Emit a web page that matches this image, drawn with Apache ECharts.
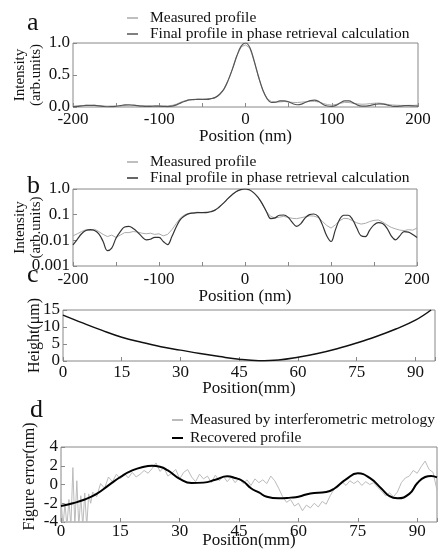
<!DOCTYPE html>
<html>
<head>
<meta charset="utf-8">
<script src="https://cdn.jsdelivr.net/npm/echarts@6/dist/echarts.min.js"></script>
<style>
  html, body { margin: 0; padding: 0; background: #fff; }
  #chart { width: 440px; height: 559px; }
</style>
</head>
<body>
<div id="chart"></div>
<script>
// panels a + b : same profiles, linear and log scale
const posNm = [-200, -195, -190, -185, -180, -175, -170, -165, -160, -155, -150, -145, -140, -135, -130, -125, -120, -115, -110, -105,
  -100, -95, -90, -85, -80, -75, -70, -65, -60, -55, -50, -45, -40, -35, -30, -25, -20, -15, -10, -5,
  0, 5, 10, 15, 20, 25, 30, 35, 40, 45, 50, 55, 60, 65, 70, 75, 80, 85, 90, 95,
  100, 105, 110, 115, 120, 125, 130, 135, 140, 145, 150, 155, 160, 165, 170, 175, 180, 185, 190, 195, 200];
const measuredProfile = [0.015, 0.018, 0.022, 0.026, 0.024, 0.027, 0.022, 0.017, 0.014, 0.016, 0.013, 0.016, 0.02, 0.02, 0.022, 0.021, 0.019, 0.018, 0.019, 0.017,
  0.018, 0.015, 0.017, 0.026, 0.045, 0.075, 0.1, 0.112, 0.12, 0.125, 0.12, 0.128, 0.132, 0.145, 0.19, 0.28, 0.42, 0.6, 0.8, 0.94,
  0.97, 0.92, 0.72, 0.47, 0.26, 0.13, 0.085, 0.074, 0.08, 0.086, 0.078, 0.072, 0.07, 0.076, 0.082, 0.09, 0.088, 0.078, 0.055, 0.038,
  0.03, 0.04, 0.058, 0.072, 0.07, 0.058, 0.048, 0.043, 0.046, 0.054, 0.06, 0.062, 0.052, 0.04, 0.032, 0.028, 0.025, 0.024, 0.026, 0.025, 0.03];
const finalProfile = [0.0066, 0.011, 0.018, 0.024, 0.026, 0.024, 0.018, 0.009, 0.004, 0.005, 0.012, 0.022, 0.033, 0.035, 0.029, 0.021, 0.014, 0.0105, 0.011, 0.013,
  0.013, 0.009, 0.0068, 0.014, 0.033, 0.065, 0.09, 0.11, 0.115, 0.12, 0.12, 0.12, 0.13, 0.15, 0.2, 0.28, 0.42, 0.6, 0.8, 0.95,
  1.0, 0.93, 0.72, 0.48, 0.27, 0.13, 0.07, 0.075, 0.095, 0.097, 0.08, 0.05, 0.035, 0.045, 0.075, 0.1, 0.106, 0.085, 0.04, 0.015,
  0.009, 0.025, 0.065, 0.095, 0.095, 0.065, 0.03, 0.015, 0.014, 0.025, 0.04, 0.049, 0.045, 0.03, 0.015, 0.0105, 0.015, 0.022, 0.021, 0.017, 0.013];

// panel c : mirror height
const posHeightMm = [0, 5, 10, 15, 20, 25, 30, 35, 40, 45, 50, 55, 60, 65, 70, 75, 80, 85, 90, 94];
const heightUm = [13.5, 11.2, 9.0, 7.0, 5.5, 4.2, 3.2, 2.2, 1.3, 0.5, 0.1, 0.3, 1.1, 2.2, 3.6, 5.3, 7.2, 9.4, 12.0, 15.0];

// panel d : figure error
const posMetrologyMm = [0, 0.5, 1, 1.5, 2, 2.5, 3, 3.5, 4, 4.5, 5, 5.5, 6, 6.5, 7, 7.5, 8, 9, 10, 11, 12, 13, 14, 15, 16, 17, 18, 19, 20,
  21, 22, 23, 24, 25, 26, 27, 28, 29, 30, 31, 32, 33, 34, 35, 36, 37, 38, 39, 40, 41, 42, 43, 44, 45, 46, 47, 48, 49, 50,
  51, 52, 53, 54, 55, 56, 57, 58, 59, 60, 61, 62, 63, 64, 65, 66, 67, 68, 69, 70, 71, 72, 73, 74, 75, 76, 77, 78, 79, 80,
  81, 82, 83, 84, 85, 86, 87, 88, 89, 90, 91, 92, 93, 94, 95];
const metrologyNm = [-1.5, -4.5, -2, -4.5, -1.6, -4.5, 1.8, -4.5, 0.4, -4.5, -1.2, -4.5, -0.9, -4.5, -1, -2, -0.8, -1.3, 0.1, -0.4, 0.8, 0.3, 1.1, 0.6, 1.2, 0.7, 1.3, 0.8, 1.1,
  1.5, 1.2, 1.7, 2.3, 1.4, 1.8, 0.9, 1.2, 1.6, 0.6, 1.3, 1.6, 0.8, 0.3, 1.1, 0.6, 0.9, 0.2, 1.0, 0.4, 0.9, 0.3, 0.8, 0.2, 0.7, 0.1, 0.5, -0.1, 0.6, 0.2,
  0.5, 0.1, 0.9, 0.4, -0.4, -1.3, -1.9, -1.6, -2.3, -2.0, -2.8, -2.2, -2.5, -2.0, -2.4, -1.8, -2.1, -1.2, -0.5, -0.3, 0.3, -0.1, 0.4, 0.1, 0.4, -0.1, 0.3, 0.0, 0.2, -0.3,
  -0.7, -1.2, -0.9, -1.3, -0.8, 0.2, 0.7, 0.9, 1.5, 1.2, 1.9, 2.5, 1.6, 1.3, -0.6];
const posRecoveredMm = [0, 3, 6, 9, 12, 15, 18, 21, 23, 25, 27, 30, 33, 36, 39, 42, 44, 46, 48, 50, 52, 55, 58, 60, 63, 67, 69, 72, 75, 78, 81, 83, 85, 88, 90, 92, 93.5, 95];
const recoveredNm = [-2.3, -2.0, -1.6, -1.0, -0.1, 0.8, 1.5, 1.9, 2.0, 1.9, 1.5, 0.6, 0.15, 0.2, 0.5, 0.88, 0.7, 0.35, -0.4, -0.85, -1.3, -1.47, -1.4, -1.3, -0.95, -0.8, -0.45, 0.55, 1.19, 0.7, -0.45, -1.25, -1.47, -1.0, 0.13, 0.8, 0.92, 0.77];

const FONT = "Liberation Serif";
const FRAME = "#888";

function pairs(xs, ys) {
  let out = [];
  for (let i = 0; i < xs.length; i++) out.push([xs[i], ys[i]]);
  return out;
}

function makeX(grid, min, max, interval, step, name, nameGap, margin) {
  return {
    gridIndex: grid, type: "value", min: min, max: max, interval: interval,
    name: name, nameLocation: "middle", nameGap: nameGap, nameMoveOverlap: false,
    nameTextStyle: { fontFamily: FONT, fontSize: 17, color: "#111" },
    axisLine: { show: false, onZero: false },
    axisTick: { inside: true, length: 4, lineStyle: { color: FRAME } },
    axisLabel: {
      fontFamily: FONT, fontSize: 17, color: "#111", margin: margin,
      formatter: function (v) { return v % step === 0 ? String(v) : ""; }
    },
    splitLine: { show: false }
  };
}

function makeY(grid, opts) {
  return Object.assign({
    gridIndex: grid, type: "value",
    nameLocation: "middle", nameRotate: 90, nameMoveOverlap: false,
    nameTextStyle: { fontFamily: FONT, fontSize: 15, color: "#111", lineHeight: 16 },
    axisLine: { show: false, onZero: false },
    axisTick: { inside: true, length: 4, lineStyle: { color: FRAME } },
    axisLabel: { fontFamily: FONT, fontSize: 17, color: "#111", margin: 3 },
    splitLine: { show: false }
  }, opts);
}

function legendAt(left, top, fontSize, lineH, iconH, textPad, items) {
  return {
    left: left, top: top, padding: 0, orient: "vertical", icon: "rect",
    itemWidth: 11, itemHeight: iconH, itemGap: 0,
    textStyle: { fontFamily: FONT, fontSize: fontSize, color: "#111", lineHeight: lineH, padding: [0, 0, 0, textPad] },
    data: items
  };
}

const chart = echarts.init(document.getElementById("chart"), null, { renderer: "canvas" });

const option = {
  animation: false,
  backgroundColor: "#fff",
  grid: [
    { left: 73, right: 22, top: 43, height: 64, show: true, borderColor: FRAME, borderWidth: 1 },
    { left: 73, right: 23, top: 189, height: 77, show: true, borderColor: FRAME, borderWidth: 1 },
    { left: 63, right: 5, top: 310, height: 51, show: true, borderColor: FRAME, borderWidth: 1 },
    { left: 61, right: 3, top: 447, height: 75, show: true, borderColor: FRAME, borderWidth: 1 }
  ],
  xAxis: [
    makeX(0, -200, 200, 50, 100, "Position (nm)", 21, 4),
    makeX(1, -200, 200, 50, 100, "Position (nm)", 22, 5),
    makeX(2, 0, 95, 15, 15, "Position(mm)", 19, 3),
    makeX(3, 0, 95, 15, 15, "Position(mm)", 10, 1)
  ],
  yAxis: [
    makeY(0, {
      min: 0, max: 1, interval: 0.5, name: "Intensity\n(arb.units)", nameGap: 29,
      axisLabel: { fontFamily: FONT, fontSize: 17, color: "#111", margin: 3, formatter: function (v) { return v.toFixed(1); } }
    }),
    makeY(1, {
      type: "log", logBase: 10, min: 0.001, max: 1, name: "Intensity\n(arb.units)", nameGap: 29,
      axisLabel: { fontFamily: FONT, fontSize: 17, color: "#111", margin: 3, formatter: function (v) { return v >= 1 ? "1.0" : String(+v.toPrecision(1)); } }
    }),
    makeY(2, { min: 0, max: 15, interval: 5, name: "Height(μm)", nameGap: 20, nameTextStyle: { fontFamily: FONT, fontSize: 16, color: "#111" } }),
    makeY(3, { min: -4, max: 4, interval: 2, name: "Figure error(nm)", nameGap: 23, nameTextStyle: { fontFamily: FONT, fontSize: 16, color: "#111", padding: [0, 0, 0, 16] } })
  ],
  legend: [
    legendAt(127, 10, 15.5, 16, 1.5, 7, [
      { name: "Measured profile", itemStyle: { color: "#aaa" } },
      { name: "Final profile in phase retrieval calculation", itemStyle: { color: "#555" } }
    ]),
    legendAt(127, 154, 15.5, 16, 1.5, 7, [
      { name: "Measured profile", itemStyle: { color: "#aaa" } },
      { name: "Final profile in phase retrieval calculation", itemStyle: { color: "#333" } }
    ]),
    legendAt(172, 411, 15.5, 18, 2, 2, [
      { name: "Measured by interferometric metrology", itemStyle: { color: "#bbb" } },
      { name: "Recovered profile", itemStyle: { color: "#000" } }
    ])
  ],
  graphic: [
    { type: "text", left: 27, top: 10, style: { text: "a", font: "26px " + FONT, fill: "#111" } },
    { type: "text", left: 27, top: 173, style: { text: "b", font: "26px " + FONT, fill: "#111" } },
    { type: "text", left: 27, top: 262, style: { text: "c", font: "26px " + FONT, fill: "#111" } },
    { type: "text", left: 30, top: 397, style: { text: "d", font: "26px " + FONT, fill: "#111" } }
  ],
  series: [
    {
      name: "Measured profile", type: "line", xAxisIndex: 0, yAxisIndex: 0, symbol: "none",
      itemStyle: { color: "#aaa" }, lineStyle: { color: "#aaa", width: 1 }, data: pairs(posNm, measuredProfile)
    },
    {
      name: "Final profile in phase retrieval calculation", type: "line", xAxisIndex: 0, yAxisIndex: 0, symbol: "none", smooth: 0.4,
      itemStyle: { color: "#555" }, lineStyle: { color: "#555", width: 1.2 }, data: pairs(posNm, finalProfile)
    },
    {
      name: "Measured profile", type: "line", xAxisIndex: 1, yAxisIndex: 1, symbol: "none",
      itemStyle: { color: "#aaa" }, lineStyle: { color: "#aaa", width: 1 }, data: pairs(posNm, measuredProfile)
    },
    {
      name: "Final profile in phase retrieval calculation", type: "line", xAxisIndex: 1, yAxisIndex: 1, symbol: "none", smooth: 0.4,
      itemStyle: { color: "#333" }, lineStyle: { color: "#333", width: 1.2 }, data: pairs(posNm, finalProfile)
    },
    {
      name: "Height", type: "line", xAxisIndex: 2, yAxisIndex: 2, symbol: "none", smooth: 0.4,
      itemStyle: { color: "#111" }, lineStyle: { color: "#111", width: 1.5 }, data: pairs(posHeightMm, heightUm)
    },
    {
      name: "Measured by interferometric metrology", type: "line", xAxisIndex: 3, yAxisIndex: 3, symbol: "none",
      itemStyle: { color: "#bbb" }, lineStyle: { color: "#bbb", width: 1 }, data: pairs(posMetrologyMm, metrologyNm)
    },
    {
      name: "Recovered profile", type: "line", xAxisIndex: 3, yAxisIndex: 3, symbol: "none", smooth: 0.5,
      itemStyle: { color: "#000" }, lineStyle: { color: "#000", width: 2 }, data: pairs(posRecoveredMm, recoveredNm)
    }
  ]
};

chart.setOption(option);
window.addEventListener("resize", chart.resize);
</script>
</body>
</html>
